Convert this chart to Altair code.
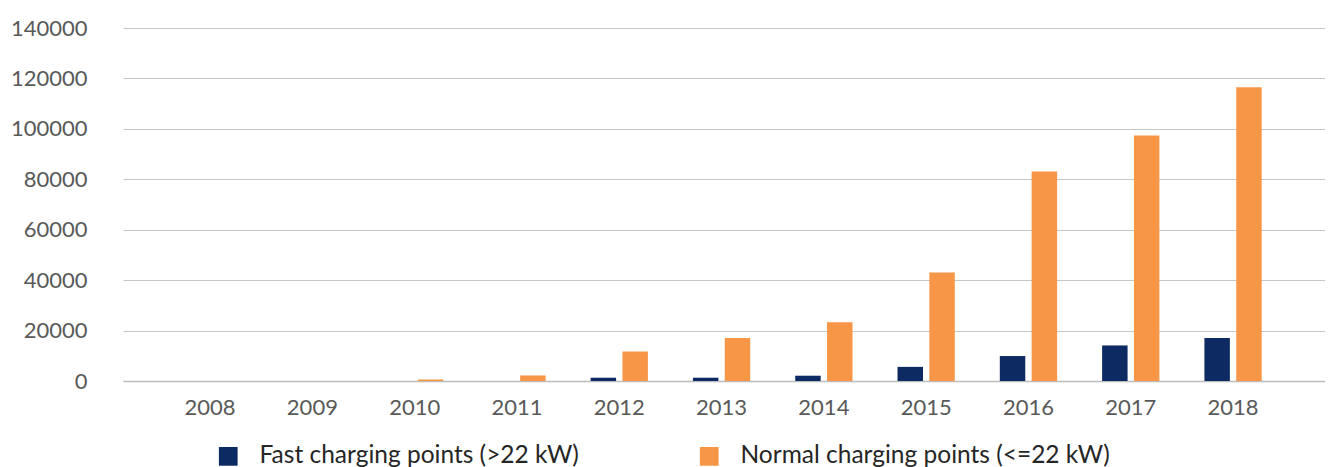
import altair as alt
import pandas as pd

years = ["2008", "2009", "2010", "2011", "2012", "2013", "2014", "2015", "2016", "2017", "2018"]
fast = [0, 0, 0, 0, 1300, 1300, 2100, 5600, 9900, 14100, 17100]
normal = [0, 0, 600, 2200, 11700, 17100, 23300, 43000, 83100, 97400, 116500]
series = ["Fast charging points (>22 kW)", "Normal charging points (<=22 kW)"]
colors = ["#0e2a62", "#f79646"]
y_ticks = [0, 20000, 40000, 60000, 80000, 100000, 120000, 140000]

rows = []
for i, yr in enumerate(years):
    rows.append({"year": yr, "series": series[0], "order": 0, "value": fast[i]})
    rows.append({"year": yr, "series": series[1], "order": 1, "value": normal[i]})
df = pd.DataFrame(rows)

FONT = "Lato"

chart = alt.Chart(df).mark_bar().encode(
    x=alt.X("year:N", sort=years, title=None,
            scale=alt.Scale(paddingInner=0.44, paddingOuter=0.595, align=0.48),
            axis=alt.Axis(labelAngle=0, labelFont=FONT, labelFontSize=22, labelColor="#595959",
                          ticks=False, domain=True, domainColor="#bcbcbc", domainWidth=1.5,
                          labelPadding=16)),
    xOffset=alt.XOffset("series:N", sort=series,
                        scale=alt.Scale(paddingInner=0.2, paddingOuter=0)),
    y=alt.Y("value:Q", title=None,
            scale=alt.Scale(domain=[0, 140000], nice=False),
            axis=alt.Axis(values=y_ticks, format="d", labelFont=FONT, labelFontSize=22,
                          labelColor="#595959", ticks=False, domain=False, labelPadding=36,
                          gridColor="#c6c6c6", gridWidth=1)),
    color=alt.Color("series:N", sort=series,
                    scale=alt.Scale(domain=series, range=colors),
                    legend=alt.Legend(title=None, orient="none", direction="horizontal",
                                      legendX=93, legendY=416, symbolType="square",
                                      symbolSize=350, symbolStrokeWidth=0, symbolOpacity=1,
                                      labelFont=FONT, labelFontSize=24.5, labelColor="#262626",
                                      labelOffset=19, columnPadding=118, labelLimit=600)),
).properties(
    width=1202, height=353,
    autosize=alt.AutoSizeParams(type="none"),
    padding={"left": 115, "top": 20, "right": 0, "bottom": 86},
).configure_view(stroke=None).configure_axis(grid=True).configure_axisX(grid=False)

chart.save("out.html", embed_options={"renderer": "svg", "actions": False})
